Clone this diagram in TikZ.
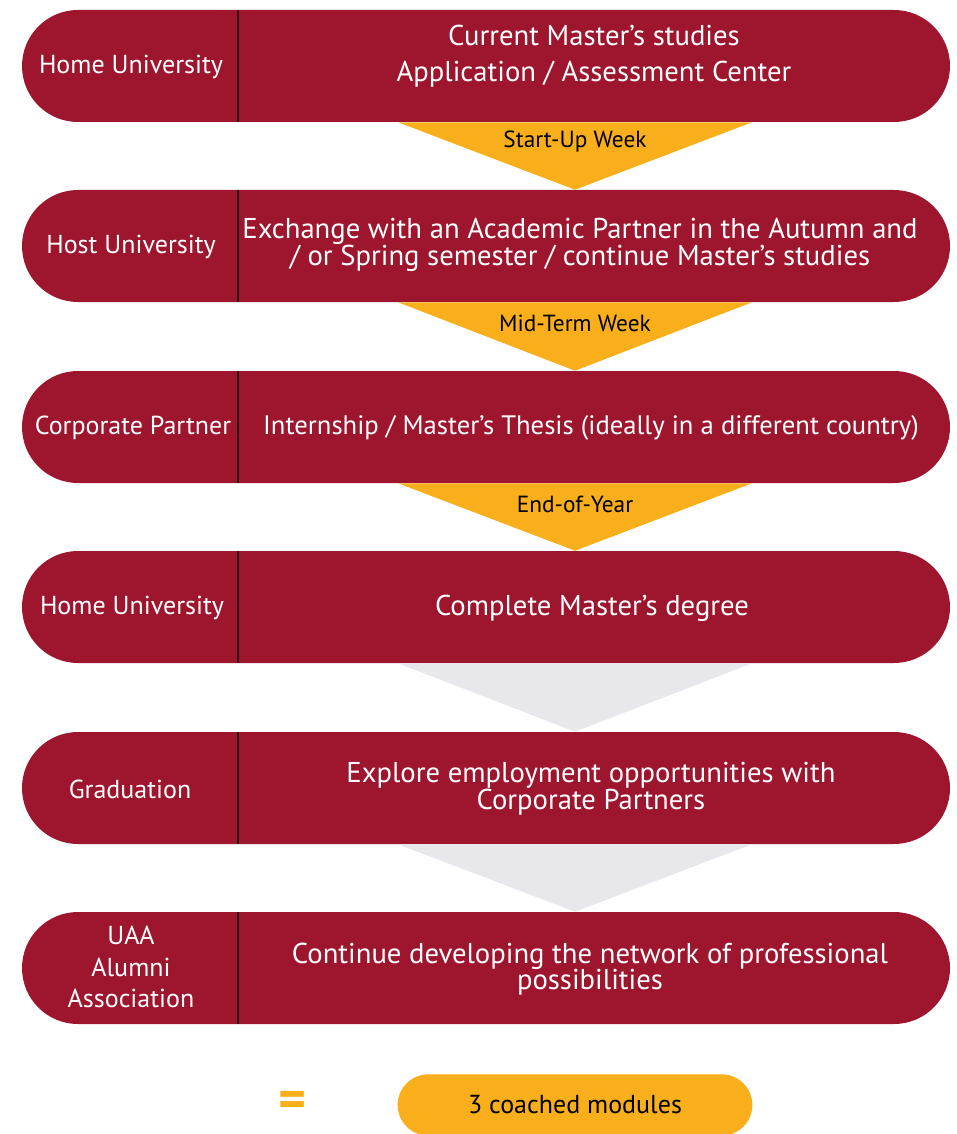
\documentclass[tikz,border=0pt]{standalone}
\usepackage{fontspec}
\setmainfont{PT Sans}
\usepackage{xcolor}
\definecolor{uniRed}{HTML}{9E162E}
\definecolor{weekGold}{HTML}{F9AE1B}
\definecolor{stepGrey}{HTML}{E8E7EC}
\definecolor{splitLine}{HTML}{2B0A10}
\tikzset{
  pill/.style={fill=uniRed, rounded corners=42pt, minimum width=696pt,
    minimum height=84pt, inner sep=0pt},
  who/.style={text=white, font=\fontsize{19.5}{23.5}\selectfont, align=center},
  what/.style={text=white, font=\fontsize{21.5}{20}\selectfont, align=center},
  week/.style={font=\fontsize{17.5}{20}\selectfont},
  split/.style={draw=splitLine, line width=1.5pt},
}

\begin{document}
\begin{tikzpicture}[x=0.75pt, y=-0.75pt]
  \useasboundingbox (0,0) rectangle (956,1134);
  \coordinate (cut) at (238,0);
  \coordinate (tipl) at (398,0);
  \coordinate (tipr) at (752,0);
  \coordinate (tipm) at (575,0);

  \node[pill] (home) at (486,66) {};
  \node[pill] (host) at (486,246) {};
  \node[pill] (corp) at (486,427) {};
  \node[pill] (done) at (486,607) {};
  \node[pill] (grad) at (486,788) {};
  \node[pill] (uaa) at (486,968) {};

  \fill[weekGold] (home.south -| tipl) -- (home.south -| tipr) -- (host.north -| tipm) -- cycle;
  \fill[weekGold] (host.south -| tipl) -- (host.south -| tipr) -- (corp.north -| tipm) -- cycle;
  \fill[weekGold] (corp.south -| tipl) -- (corp.south -| tipr) -- (done.north -| tipm) -- cycle;
  \fill[stepGrey] (done.south -| tipl) -- (done.south -| tipr) -- (grad.north -| tipm) -- cycle;
  \fill[stepGrey] (grad.south -| tipl) -- (grad.south -| tipr) -- (uaa.north -| tipm) -- cycle;

  \foreach \row in {home,host,corp,done,grad,uaa}
    \draw[split] (\row.north -| cut) -- (\row.south -| cut);

  \node[who] (homel) at (131,67) {Home University};
  \node[who] (hostl) at (131,247) {Host University};
  \node[who] (corpl) at (133,428) {Corporate Partner};
  \node[who] (donel) at (132,608) {Home University};
  \node[who] (gradl) at (130,789) {Graduation};
  \node[who] (uaal) at (131,967) {UAA\\Alumni\\Association};

  \node[what, font=\fontsize{21.5}{27}\selectfont] (homet) at (594,56)
    {Current Master’s studies\\Application / Assessment Center};
  \node[what] (hostt) at (580,245)
    {Exchange with an Academic Partner in the Autumn and\\/ or Spring semester / continue Master’s studies};
  \node[what, font=\fontsize{20}{20}\selectfont] (corpt) at (591,428)
    {Internship / Master’s Thesis (ideally in a different country)};
  \node[what] (donet) at (592,608) {Complete Master’s degree};
  \node[what] (gradt) at (591,789)
    {Explore employment opportunities with\\Corporate Partners};
  \node[what] (uaat) at (590,969)
    {Continue developing the network of professional\\possibilities};

  \node[week] (startup) at (575,142) {Start-Up Week};
  \node[week] (midterm) at (575,323) {Mid-Term Week};
  \node[week] (endyear) at (575,504) {End-of-Year};

  \node[text=weekGold, font=\fontsize{40}{40}\selectfont\bfseries] (equals) at (293,1104) {=};
  \node[fill=weekGold, rounded corners=23pt, minimum width=266pt, minimum height=46pt,
    font=\fontsize{19.5}{22}\selectfont] (modules) at (575,1105) {3 coached modules};
\end{tikzpicture}
\end{document}
